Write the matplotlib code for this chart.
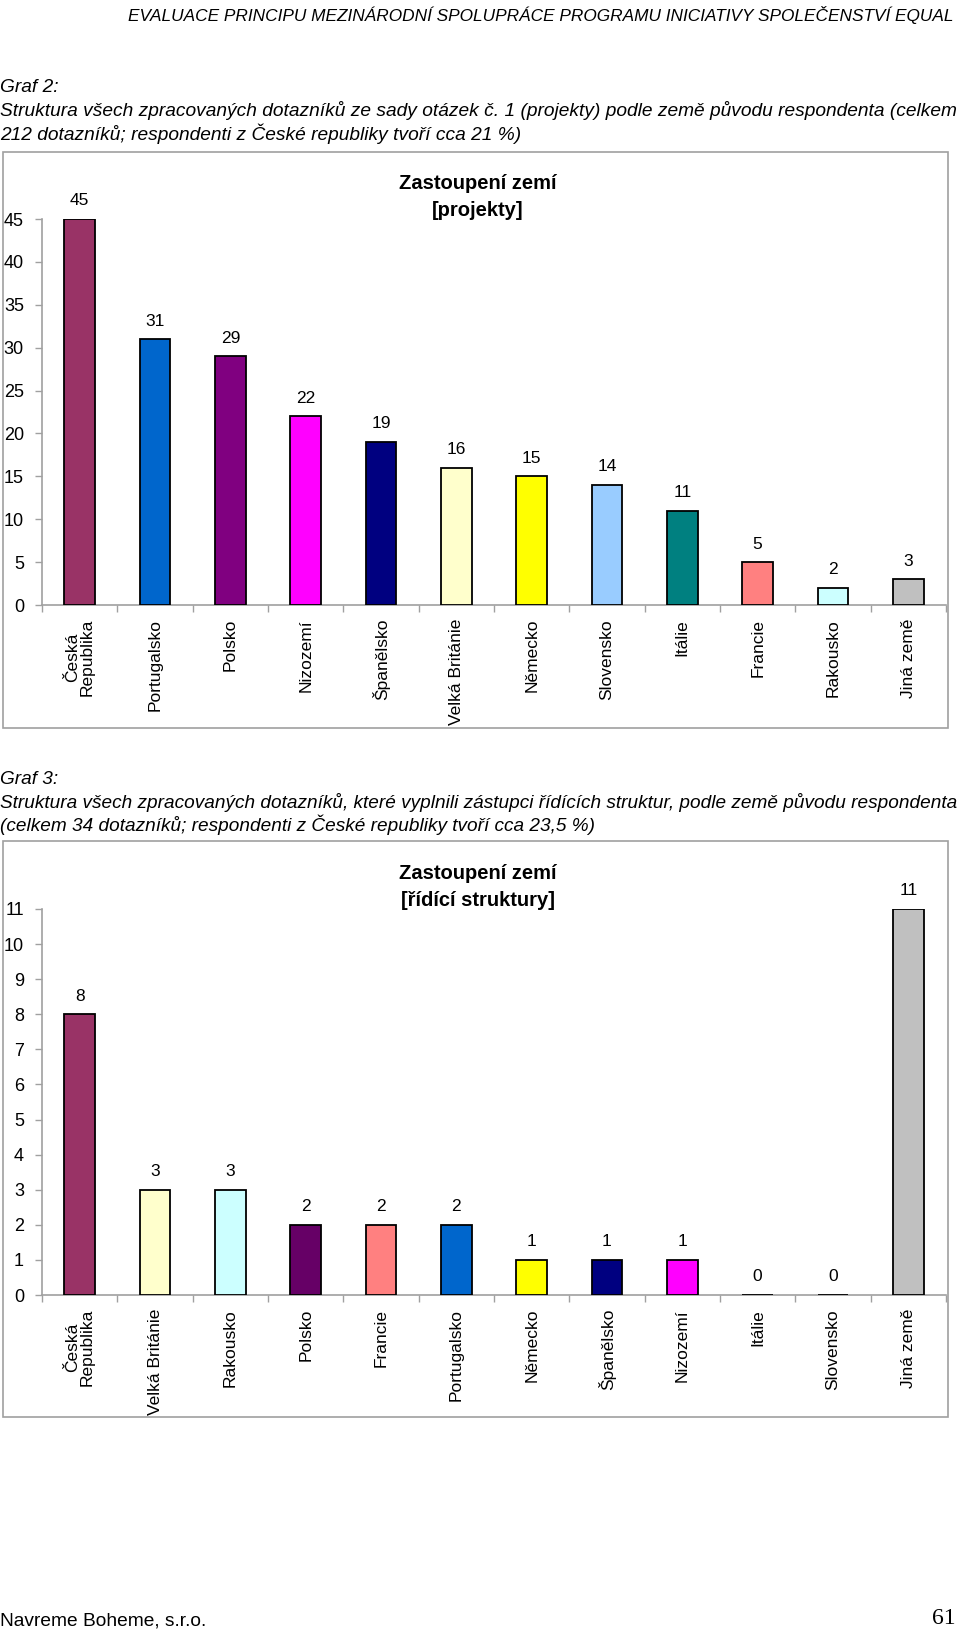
import matplotlib
matplotlib.use("Agg")
import matplotlib.pyplot as plt
from matplotlib import font_manager as fm
from matplotlib.patches import Rectangle
import numpy as np

# ---------------- data ----------------
cats1 = ["Česká\nRepublika", "Portugalsko", "Polsko", "Nizozemí", "Španělsko",
         "Velká Británie", "Německo", "Slovensko", "Itálie", "Francie",
         "Rakousko", "Jiná země"]
vals1 = [45, 31, 29, 22, 19, 16, 15, 14, 11, 5, 2, 3]
cols1 = ["#993366", "#0066CC", "#800080", "#FF00FF", "#000080", "#FFFFCC",
         "#FFFF00", "#99CCFF", "#008080", "#FF8080", "#CCFFFF", "#C0C0C0"]
yticks1 = [0, 5, 10, 15, 20, 25, 30, 35, 40, 45]

cats2 = ["Česká\nRepublika", "Velká Británie", "Rakousko", "Polsko", "Francie",
         "Portugalsko", "Německo", "Španělsko", "Nizozemí", "Itálie",
         "Slovensko", "Jiná země"]
vals2 = [8, 3, 3, 2, 2, 2, 1, 1, 1, 0, 0, 11]
cols2 = ["#993366", "#FFFFCC", "#CCFFFF", "#660066", "#FF8080", "#0066CC",
         "#FFFF00", "#000080", "#FF00FF", "#008080", "#99CCFF", "#C0C0C0"]
yticks2 = list(range(0, 12))

header = "EVALUACE PRINCIPU MEZINÁRODNÍ SPOLUPRÁCE PROGRAMU INICIATIVY SPOLEČENSTVÍ EQUAL"
cap2 = ["Graf 2:",
        "Struktura všech zpracovaných dotazníků ze sady otázek č. 1 (projekty) podle země původu respondenta (celkem",
        "212 dotazníků; respondenti z České republiky tvoří cca 21 %)"]
cap3 = ["Graf 3:",
        "Struktura všech zpracovaných dotazníků, které vyplnili zástupci řídících struktur, podle země původu respondenta",
        "(celkem 34 dotazníků; respondenti z České republiky tvoří cca 23,5 %)"]
title1 = "Zastoupení zemí\n[projekty]"
title2 = "Zastoupení zemí\n[řídící struktury]"
footer_left = "Navreme Boheme, s.r.o."
footer_right = "61"

# ---------------- fonts ----------------
names = {f.name for f in fm.fontManager.ttflist}
ARIAL = "Liberation Sans"
NARROW = "Liberation Sans Narrow" if "Liberation Sans Narrow" in names else "Liberation Sans"
CAPF = [NARROW, "DejaVu Sans"]
SERIF = "Liberation Serif"

W, H = 960, 1632
fig = plt.figure(figsize=(W / 100, H / 100), dpi=100)
renderer = fig.canvas.get_renderer()


def fx(x):
    return x / W


def fy(y):
    return 1 - y / H


def fit_text(x, y, s, width, base=14, **kw):
    t = fig.text(fx(x), fy(y), s, fontsize=base, **kw)
    w = t.get_window_extent(renderer).width
    t.set_fontsize(base * width / w)
    return t.get_fontsize()


# header
fit_text(953, 15, header, 828, ha="right", va="center", family=CAPF, style="italic")

# captions
fs = fit_text(0, 110, cap2[1], 956, ha="left", va="center", family=CAPF, style="italic")
fig.text(fx(0), fy(88), cap2[0], fontsize=fs, ha="left", va="center", family=CAPF, style="italic")
fig.text(fx(0), fy(134), cap2[2], fontsize=fs, ha="left", va="center", family=CAPF, style="italic")
fs3 = fit_text(0, 802, cap3[1], 956, ha="left", va="center", family=CAPF, style="italic")
fig.text(fx(0), fy(779), cap3[0], fontsize=fs3, ha="left", va="center", family=CAPF, style="italic")
fig.text(fx(0), fy(825), cap3[2], fontsize=fs3, ha="left", va="center", family=CAPF, style="italic")

# footer
fig.text(fx(0), fy(1621), footer_left, fontsize=fs, ha="left", va="center", family=CAPF)
fig.text(fx(956), fy(1619), footer_right, fontsize=17, ha="right", va="center", family=SERIF)

# frames
for (y0, y1) in [(152, 728), (841, 1417)]:
    fig.patches.append(Rectangle((fx(3), fy(y1)), fx(948) - fx(3), fy(y0) - fy(y1),
                                 transform=fig.transFigure, fill=False,
                                 edgecolor="#A0A0A0", linewidth=1.2, zorder=0))


def draw_chart(cats, vals, cols, yticks, ytop, y0px, ytoppx, title, title_y, tick_family, title_family):
    ax = fig.add_axes([fx(42), fy(y0px), fx(946) - fx(42), (y0px - ytoppx) / H])
    x = np.arange(len(cats))
    ax.bar(x, vals, width=0.41, color=cols, edgecolor="black", linewidth=1.3, zorder=3)
    ax.set_xlim(-0.5, len(cats) - 0.5)
    ax.set_ylim(0, ytop)
    ax.set_yticks(yticks)
    ax.set_yticklabels([str(v) for v in yticks], family=tick_family, fontsize=13)
    ax.set_xticks(x)
    ax.set_xticklabels(cats, rotation=90, family=ARIAL, fontsize=12.5, va="top", ha="center",
                       linespacing=1.0)
    ax.set_xticks(np.arange(len(cats) + 1) - 0.5, minor=True)
    ax.tick_params(axis="x", which="major", length=0, pad=10)
    ax.tick_params(axis="x", which="minor", length=5, color="#A0A0A0", width=1)
    ax.tick_params(axis="y", length=5, color="#A0A0A0", width=1, pad=8)
    for sp in ["top", "right"]:
        ax.spines[sp].set_visible(False)
    for sp in ["left", "bottom"]:
        ax.spines[sp].set_color("#A0A0A0")
        ax.spines[sp].set_linewidth(1.2)
    for xi, v in zip(x, vals):
        ax.annotate(str(v), (xi, v), xytext=(0, 13), textcoords="offset points",
                    ha="center", va="center", fontsize=12.5, family=ARIAL, annotation_clip=False)
    fig.text(fx(478), fy(title_y), title, ha="center", va="center", fontsize=14.5,
             fontweight="bold", family=title_family, linespacing=1.55)
    return ax


draw_chart(cats1, vals1, cols1, yticks1, 45, 605, 219, title1, 197, ARIAL, ARIAL)
draw_chart(cats2, vals2, cols2, yticks2, 11, 1295, 909, title2, 887, NARROW, NARROW)

fig.savefig("out.png", dpi=100)
